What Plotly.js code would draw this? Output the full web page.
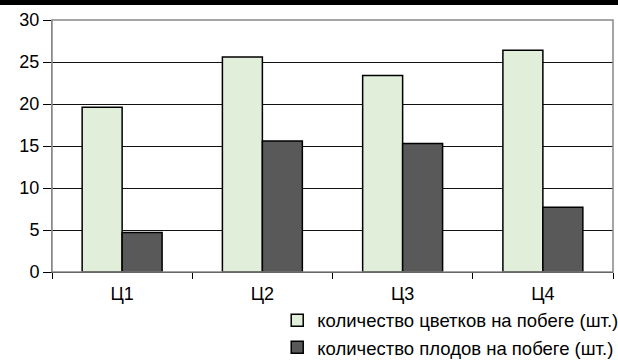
<!DOCTYPE html>
<html><head><meta charset="utf-8">
<script src="https://cdn.plot.ly/plotly-3.0.1.min.js"></script>
<style>html,body{margin:0;padding:0;background:#fff}#c{width:618px;height:361px}</style>
</head><body><div id="c"></div>
<script>
const categories = ["Ц1", "Ц2", "Ц3", "Ц4"];
const flowers = [19.6, 25.6, 23.4, 26.4];
const fruits = [4.7, 15.6, 15.3, 7.7];
const seriesNames = ["количество цветков на побеге (шт.)", "количество плодов на побеге (шт.)"];
const yTicks = [0, 5, 10, 15, 20, 25, 30];

const data = [
  {type: "bar", x: categories, y: flowers, name: seriesNames[0],
   marker: {color: "#e1eed9", line: {color: "#000", width: 1.5}}},
  {type: "bar", x: categories, y: fruits, name: seriesNames[1],
   marker: {color: "#595959", line: {color: "#000", width: 1.5}}}
];
const layout = {
  width: 618, height: 361,
  margin: {l: 52, r: 5, t: 20, b: 89, autoexpand: false},
  paper_bgcolor: "#fff", plot_bgcolor: "#fff",
  barmode: "group", bargap: 0.43, bargroupgap: 0,
  font: {family: "Liberation Sans, Arial, sans-serif", color: "#000", size: 18},
  xaxis: {showline: true, linecolor: "#000", linewidth: 1, ticks: "outside", ticklen: 6,
          tickcolor: "#000", tickson: "boundaries", showgrid: false, mirror: false,
          tickfont: {size: 18}, ticklabelstandoff: 5, automargin: false},
  yaxis: {range: [0, 30], tickvals: yTicks, ticks: "outside", ticklen: 8, tickcolor: "#000",
          showline: true, linecolor: "#888", linewidth: 1, gridcolor: "#111", gridwidth: 1,
          zeroline: false, tickfont: {size: 18}, automargin: false},
  legend: {x: 1.02, xanchor: "right", y: -0.118, yanchor: "top", orientation: "v",
           font: {size: 18.5}, itemwidth: 30, tracegroupgap: 0, bgcolor: "rgba(0,0,0,0)"},
  shapes: [
    {type: "rect", xref: "paper", yref: "paper", x0: 0, x1: 1, y0: 0, y1: 1,
     line: {color: "#888", width: 1.5}, layer: "above"},
    {type: "rect", xref: "paper", yref: "paper", x0: -0.2, x1: 1.2, y0: 1.06, y1: 1.2,
     fillcolor: "#000", line: {width: 0}}
  ],
  showlegend: true
};
Plotly.newPlot("c", data, layout, {displayModeBar: false, staticPlot: true});
</script></body></html>
